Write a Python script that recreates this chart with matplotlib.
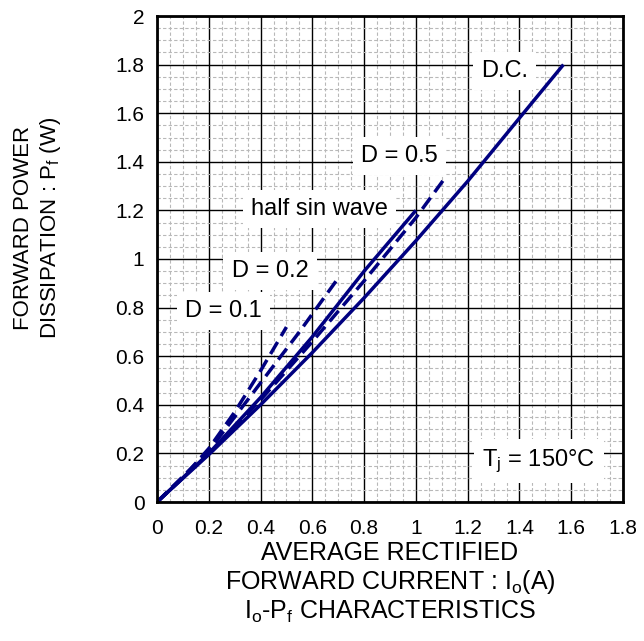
import numpy as np
import matplotlib
matplotlib.use("Agg")
import matplotlib.pyplot as plt
from matplotlib.ticker import MultipleLocator

# curves (Io in A, Pf in W)
dc_io = [0, 0.2, 0.4, 0.6, 0.8, 1.0, 1.2, 1.4, 1.57]
dc_pf = [0, 0.195, 0.40, 0.615, 0.84, 1.075, 1.32, 1.58, 1.8]

half_sin_io = [0, 0.2, 0.4, 0.6, 0.8, 1.0]
half_sin_pf = [0, 0.20, 0.43, 0.68, 0.95, 1.2]

d05_io = [0, 0.2, 0.4, 0.6, 0.8, 1.0, 1.11]
d05_pf = [0, 0.20, 0.42, 0.66, 0.91, 1.17, 1.33]

d02_io = [0, 0.2, 0.4, 0.55, 0.695]
d02_pf = [0, 0.21, 0.49, 0.70, 0.914]

d01_io = [0, 0.1, 0.2, 0.3, 0.4, 0.5]
d01_pf = [0, 0.10, 0.22, 0.37, 0.54, 0.72]

x_ticks = [0, 0.2, 0.4, 0.6, 0.8, 1, 1.2, 1.4, 1.6, 1.8]
y_ticks = [0, 0.2, 0.4, 0.6, 0.8, 1, 1.2, 1.4, 1.6, 1.8, 2]

plt.rcParams['font.family'] = ['Liberation Sans', 'DejaVu Sans']
plt.rcParams['mathtext.fontset'] = 'custom'
plt.rcParams['mathtext.rm'] = 'Liberation Sans'
plt.rcParams['mathtext.it'] = 'Liberation Sans'

navy = '#000080'

fig = plt.figure(figsize=(6.44, 6.41), dpi=100)
ax = fig.add_axes([157 / 644, 1 - 502 / 641, 466 / 644, 486 / 641])

ax.set_xlim(0, 1.8)
ax.set_ylim(0, 2)
ax.xaxis.set_minor_locator(MultipleLocator(0.05))
ax.yaxis.set_minor_locator(MultipleLocator(0.05))
ax.set_xticks(x_ticks)
ax.set_yticks(y_ticks)
ax.set_xticklabels([f"{t:g}" for t in x_ticks])
ax.set_yticklabels([f"{t:g}" for t in y_ticks])
ax.grid(which='minor', color='#b8b8b8', linestyle=(0, (3, 2)), linewidth=0.8)
ax.grid(which='major', color='black', linestyle='-', linewidth=1.0)
ax.set_axisbelow(True)
ax.tick_params(which='both', length=0)
ax.tick_params(axis='x', labelsize=15, pad=12)
ax.tick_params(axis='y', labelsize=15, pad=9)
for s in ax.spines.values():
    s.set_linewidth(2)

lw = 2.5
dash = (0, (4, 2))
ax.plot(dc_io, dc_pf, color=navy, lw=lw, solid_capstyle='butt')
ax.plot(half_sin_io, half_sin_pf, color=navy, lw=lw, solid_capstyle='butt')
ax.plot(d05_io, d05_pf, color=navy, lw=lw, linestyle=dash)
ax.plot(d02_io, d02_pf, color=navy, lw=lw, linestyle=dash)
ax.plot(d01_io, d01_pf, color=navy, lw=lw, linestyle=dash)

box = dict(facecolor='white', edgecolor='none', pad=6)
labels = [
    (1.342, 1.749, "D.C."),
    (0.938, 1.399, "D = 0.5"),
    (0.627, 1.181, "half sin wave"),
    (0.436, 0.926, "D = 0.2"),
    (0.257, 0.761, "D = 0.1"),
    (1.475, 0.148, r"T$_\mathregular{j}$ = 150°C"),
]
for x, y, s in labels:
    ax.text(x, y, s, fontsize=17, ha='center', va='baseline', bbox=box, zorder=3)

fig.text(38 / 644, 1 - 228 / 641,
         "FORWARD POWER\nDISSIPATION : P$_\\mathregular{f}$ (W)",
         fontsize=16, rotation=90, ha='center', va='center',
         multialignment='center', linespacing=1.26)
fig.text(390 / 644, 1 - 583 / 641,
         "AVERAGE RECTIFIED\nFORWARD CURRENT : I$_\\mathregular{o}$(A)\n"
         "I$_\\mathregular{o}$-P$_\\mathregular{f}$ CHARACTERISTICS",
         fontsize=18, ha='center', va='center', multialignment='center',
         linespacing=1.14)

fig.savefig("out.png", dpi=100)
